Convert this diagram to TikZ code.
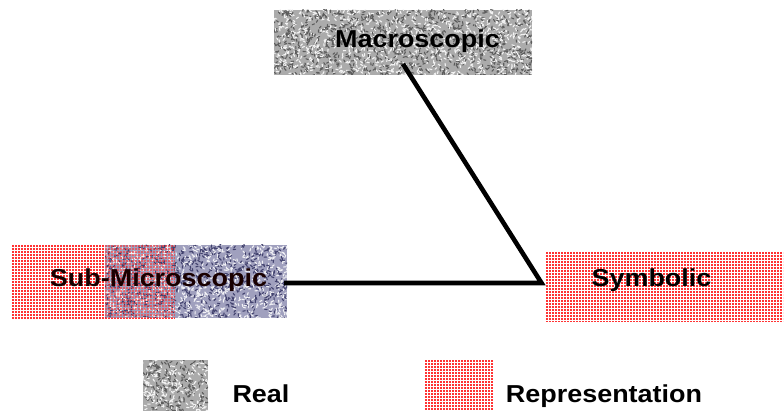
\documentclass[tikz,border=0pt]{standalone}
\usepackage{graphicx}
\usepackage{fontspec}
\setmainfont{Liberation Sans}
\begin{document}
% random speckle texture: box corners, base colour, dark stroke colour, density divisor
\newcommand\speckbox[7]{%
  \begin{scope}
    \clip (#1,#2) rectangle (#3,#4);
    \fill[#5] (#1,#2) rectangle (#3,#4);
    \pgfmathtruncatemacro\nblobs{(#3-#1)/#7*(#4-#2)}%
    \foreach \k in {1,...,\nblobs}{%
      \pgfmathsetmacro\px{#1+rnd*(#3-#1)}%
      \pgfmathsetmacro\py{#2+rnd*(#4-#2)}%
      \pgfmathsetmacro\ang{rnd*360}%
      \pgfmathsetmacro\lc{rnd}%
      \ifdim\lc pt<0.5pt \def\cc{white!85!#5}\else\def\cc{#6}\fi
      \draw[\cc,line width=1.1,line cap=round] (\px,\py) -- ++(\ang:2.4);
    }%
  \end{scope}}
% red dot screen: rows of short dashes
\newcommand\dotbox[6]{% corners, background fill, opacity
  \begin{scope}
    \clip (#1,#2) rectangle (#3,#4);
    \fill[#5] (#1,#2) rectangle (#3,#4);
    \pgfmathtruncatemacro\nrows{(#4-#2)/3}%
    \foreach \r in {0,...,\nrows}{%
      \draw[reddot,opacity=#6,line width=1.8,dash pattern=on 1.8 off 1.2]
        (#1,#2+1+3*\r) -- (#3,#2+1+3*\r);
    }%
  \end{scope}}
\begin{tikzpicture}[x=1pt,y=-1pt,
    region/.style={inner sep=0pt,outer sep=0pt},
    label/.style={anchor=base,inner sep=0pt,font=\fontsize{24.5}{28}\selectfont\bfseries},
    link/.style={line width=4.6,line join=miter,black}]
  \colorlet{reddot}{red!80!white}
  \definecolor{realgray}{HTML}{ABABAB}
  \definecolor{realdark}{HTML}{5C5C5C}
  \definecolor{subblue}{HTML}{A0A0BE}
  \definecolor{subdark}{HTML}{42426E}
  \pgfmathsetseed{4242}
  \useasboundingbox (0,0) rectangle (784,411);

  % region nodes
  \node[region,minimum width=258,minimum height=65] (macro) at (403,42.5) {};
  \node[region,minimum width=182,minimum height=73] (blue) at (196,281.5) {};
  \node[region,minimum width=163,minimum height=75] (subred) at (93.5,282.5) {};
  \node[region,minimum width=237,minimum height=70] (sym) at (664,287) {};
  \node[region,minimum width=65,minimum height=52] (legreal) at (175.5,386) {};
  \node[region,minimum width=68,minimum height=52] (legrep) at (459,386) {};

  % textures
  \speckbox{274}{10}{532}{75}{realgray}{realdark}{9}
  \dotbox{12}{245}{175}{320}{white}{1}
  \speckbox{105}{245}{287}{318}{subblue}{subdark}{9}
  \dotbox{105}{245}{175}{318}{white,opacity=0}{0.6}
  \dotbox{546}{252}{783}{322}{white}{1}
  \speckbox{143}{360}{208}{412}{realgray}{realdark}{9}
  \dotbox{425}{360}{493}{412}{white}{1}

  % connectors
  \coordinate (corner) at ([xshift=-4pt,yshift=4pt]sym.west);
  \coordinate (subend) at ([xshift=-3pt]blue.east);
  \draw[link] ([yshift=11pt]macro.south) -- (corner) -- (corner -| subend);

  % labels
  \node[label] (tmacro) at (417.5,47.5) {\scalebox{1.1}[1]{Macroscopic}};
  \node[label,text=black!90!red] (tsub) at (158.5,287) {\scalebox{1.1}[1]{Sub-Microscopic}};
  \node[label] (tsym) at (651.5,287) {\scalebox{1.1}[1]{Symbolic}};
  \node[label] (treal) at (261,402.5) {\scalebox{1.1}[1]{Real}};
  \node[label] (trep) at (604,402.5) {\scalebox{1.1}[1]{Representation}};
\end{tikzpicture}
\end{document}
